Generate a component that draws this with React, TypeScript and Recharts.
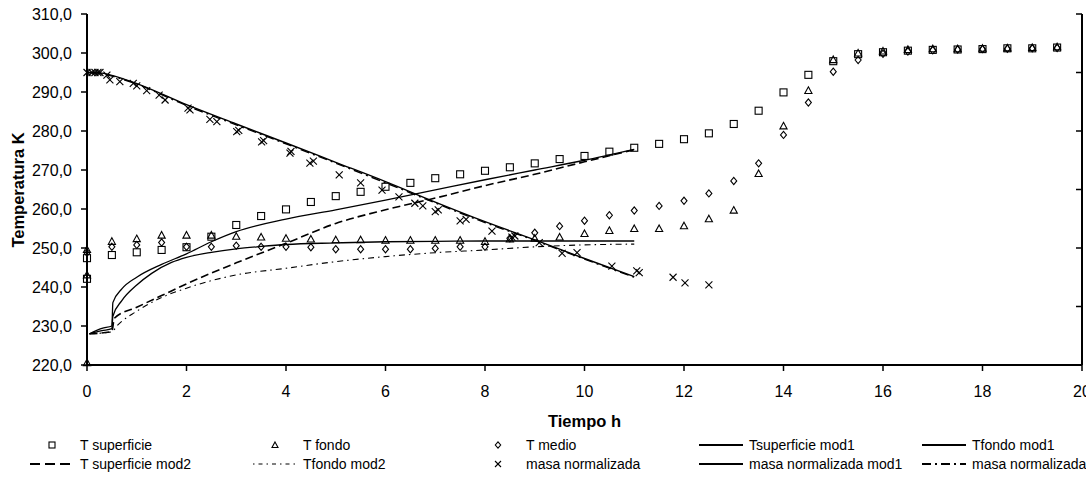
import React from 'react';
import { ComposedChart, Line, Scatter, XAxis, YAxis } from 'recharts';

const FONT = '"Liberation Sans", Arial, Helvetica, sans-serif';

// ---- measured data ----
const tSupT = [0, 0, 0.5, 1, 1.5, 2, 2.5, 3, 3.5, 4, 4.5, 5, 5.5, 6, 6.5, 7, 7.5, 8, 8.5, 9, 9.5, 10, 10.5, 11, 11.5, 12, 12.5, 13, 13.5, 14, 14.5, 15, 15.5, 16, 16.5, 17, 17.5, 18, 18.5, 19, 19.5];
const tSupV = [242.1, 247.4, 248.2, 248.9, 249.5, 250.2, 252.9, 255.9, 258.2, 259.9, 261.8, 263.3, 264.4, 265.7, 266.7, 267.9, 268.9, 269.8, 270.7, 271.7, 272.8, 273.6, 274.7, 275.7, 276.7, 277.9, 279.4, 281.8, 285.2, 289.9, 294.4, 297.9, 299.7, 300.2, 300.6, 300.8, 300.9, 301.0, 301.2, 301.2, 301.4];

const tFonT = [0, 0, 0, 0.5, 1, 1.5, 2, 2.5, 3, 3.5, 4, 4.5, 5, 5.5, 6, 6.5, 7, 7.5, 8, 8.5, 9, 9.5, 10, 10.5, 11, 11.5, 12, 12.5, 13, 13.5, 14, 14.5, 15, 15.5, 16, 16.5, 17, 17.5, 18, 18.5, 19, 19.5];
const tFonV = [249.5, 243.0, 220.5, 251.6, 252.3, 253.2, 253.2, 253.2, 252.9, 252.7, 252.4, 252.2, 252.0, 252.0, 251.9, 251.9, 251.9, 251.9, 251.6, 252.2, 252.4, 252.7, 253.6, 254.4, 254.9, 254.9, 255.6, 257.4, 259.6, 269.0, 281.2, 290.3, 298.2, 299.9, 300.4, 300.8, 301.0, 301.0, 301.1, 301.2, 301.3, 301.5];

const tMedT = [0, 0.5, 1, 1.5, 2, 2.5, 3, 3.5, 4, 4.5, 5, 5.5, 6, 6.5, 7, 7.5, 8, 8.5, 9, 9.5, 10, 10.5, 11, 11.5, 12, 12.5, 13, 13.5, 14, 14.5, 15, 15.5, 16, 16.5, 17, 17.5, 18, 18.5, 19, 19.5];
const tMedV = [248.8, 250.3, 250.8, 251.4, 250.3, 250.3, 250.6, 250.3, 250.3, 250.2, 249.7, 249.7, 249.7, 249.7, 249.9, 250.3, 250.3, 252.5, 253.9, 255.6, 257.0, 258.4, 259.6, 260.8, 262.1, 264.0, 267.2, 271.7, 279.0, 287.3, 295.2, 298.2, 299.8, 300.4, 300.7, 300.9, 301.0, 301.1, 301.2, 301.3];

const masaT = [0, 0.1, 0.16, 0.22, 0.26, 0.4, 0.46, 0.66, 0.93, 1.0, 1.2, 1.45, 1.57, 2.03, 2.07, 2.47, 2.61, 3.01, 3.05, 3.51, 3.55, 4.08, 4.1, 4.48, 4.55, 5.07, 5.5, 5.93, 6.27, 6.59, 6.75, 7.0, 7.06, 7.5, 7.62, 8.14, 8.54, 8.6, 9.09, 9.55, 9.85, 10.55, 11.05, 11.1, 11.78, 12.02, 12.5];
const masaV = [1.0, 1.0, 1.0, 1.0, 1.0, 0.991, 0.975, 0.969, 0.963, 0.954, 0.938, 0.923, 0.906, 0.878, 0.872, 0.840, 0.832, 0.798, 0.802, 0.763, 0.767, 0.724, 0.730, 0.690, 0.697, 0.650, 0.623, 0.598, 0.575, 0.553, 0.544, 0.524, 0.530, 0.493, 0.498, 0.458, 0.437, 0.441, 0.418, 0.382, 0.384, 0.338, 0.322, 0.316, 0.300, 0.281, 0.274];

// ---- model curves ----
const supMod1T = [0.05, 0.3, 0.5, 0.52, 0.7, 1.0, 1.5, 2.0, 2.5, 3, 4, 5, 6, 7, 8, 9, 10, 11];
const supMod1V = [228.0, 229.4, 230.0, 236.0, 239.5, 242.5, 245.8, 248.5, 251.6, 254.2, 257.4, 259.8, 262.3, 264.9, 267.5, 270.0, 272.5, 275.3];

const fonMod1T = [0.05, 0.3, 0.5, 0.52, 0.7, 1.0, 1.3, 1.7, 2, 2.5, 3, 3.5, 4, 5, 6, 7, 8, 11];
const fonMod1V = [228.0, 228.8, 229.3, 232.5, 236.5, 240.5, 243.5, 246.3, 247.6, 248.9, 249.8, 250.4, 250.9, 251.3, 251.6, 251.7, 251.8, 251.8];

const supMod2T = [0.05, 0.5, 0.55, 1.0, 1.5, 2, 3, 4, 5, 6, 7, 8, 9, 10, 11];
const supMod2V = [228.0, 228.6, 232.0, 234.8, 237.8, 240.8, 246.2, 251.2, 256.3, 259.8, 262.8, 266.0, 268.9, 272.1, 275.2];

const fonMod2T = [0.05, 0.5, 0.6, 1.0, 1.5, 2, 3, 4, 5, 6, 7, 8, 9, 10, 11];
const fonMod2V = [228.0, 228.5, 230.0, 233.8, 237.3, 239.7, 243.1, 244.8, 246.5, 247.8, 248.8, 249.5, 250.3, 250.8, 251.0];

const masaMod1T = [0, 0.3, 0.5, 1, 2, 3, 4, 5, 6, 7, 8, 9, 10, 11];
const masaMod1V = [1.0, 0.998, 0.99, 0.962, 0.89, 0.824, 0.759, 0.693, 0.627, 0.557, 0.49, 0.428, 0.364, 0.302];

const masaMod2T = [0, 0.3, 0.5, 1, 2, 3, 4, 5, 6, 7, 8, 9, 10, 11];
const masaMod2V = [1.0, 0.996, 0.988, 0.960, 0.887, 0.821, 0.756, 0.690, 0.623, 0.554, 0.487, 0.426, 0.362, 0.300];

const xTicks = [0, 2, 4, 6, 8, 10, 12, 14, 16, 18, 20];
const yTicks = [220, 230, 240, 250, 260, 270, 280, 290, 300, 310];
const y2Ticks = [0, 0.2, 0.4, 0.6, 0.8, 1.0, 1.2];

const zip = (t: number[], v: number[]) => t.map((x, i) => ({ t: x, v: v[i] }));

const dSup = zip(tSupT, tSupV);
const dFon = zip(tFonT, tFonV);
const dMed = zip(tMedT, tMedV);
const dMasa = zip(masaT, masaV);
const dSupMod1 = zip(supMod1T, supMod1V);
const dFonMod1 = zip(fonMod1T, fonMod1V);
const dSupMod2 = zip(supMod2T, supMod2V);
const dFonMod2 = zip(fonMod2T, fonMod2V);
const dMasaMod1 = zip(masaMod1T, masaMod1V);
const dMasaMod2 = zip(masaMod2T, masaMod2V);

const fmt = (v: number) => v.toFixed(1).replace('.', ',');

const SquareShape = (p: any) => (
  <rect x={p.cx - 3.5} y={p.cy - 3.5} width={7} height={7} fill="none" stroke="#000" strokeWidth={1.1} />
);
const TriangleShape = (p: any) => (
  <polygon points={`${p.cx},${p.cy - 4} ${p.cx + 3.6},${p.cy + 2.6} ${p.cx - 3.6},${p.cy + 2.6}`} fill="none" stroke="#000" strokeWidth={1.1} />
);
const DiamondShape = (p: any) => (
  <polygon points={`${p.cx},${p.cy - 3.6} ${p.cx + 3},${p.cy} ${p.cx},${p.cy + 3.6} ${p.cx - 3},${p.cy}`} fill="none" stroke="#000" strokeWidth={1.1} />
);
const CrossShape = (p: any) => (
  <g stroke="#000" strokeWidth={1.1}>
    <line x1={p.cx - 3.5} y1={p.cy - 3.5} x2={p.cx + 3.5} y2={p.cy + 3.5} />
    <line x1={p.cx - 3.5} y1={p.cy + 3.5} x2={p.cx + 3.5} y2={p.cy - 3.5} />
  </g>
);

const RightTick = (p: any) => (
  <line x1={p.x - 6} y1={p.y} x2={p.x} y2={p.y} stroke="#000" strokeWidth={1.5} />
);

const YTitle = (p: any) => {
  const cx = 18;
  const cy = 190;
  return (
    <text x={cx} y={cy} transform={`rotate(-90 ${cx} ${cy})`} textAnchor="middle" dominantBaseline="central"
      style={{ fontFamily: FONT, fontSize: 16.5, fontWeight: 'bold', fill: '#000' }}>
      Temperatura K
    </text>
  );
};

type LegendItem = { label: string; kind: string };
const legendRow1: LegendItem[] = [
  { label: 'T superficie', kind: 'square' },
  { label: 'T fondo', kind: 'triangle' },
  { label: 'T medio', kind: 'diamond' },
  { label: 'Tsuperficie mod1', kind: 'solid' },
  { label: 'Tfondo mod1', kind: 'solid' },
];
const legendRow2: LegendItem[] = [
  { label: 'T superficie mod2', kind: 'dashed' },
  { label: 'Tfondo mod2', kind: 'dashdotfine' },
  { label: 'masa normalizada', kind: 'cross' },
  { label: 'masa normalizada mod1', kind: 'solid' },
  { label: 'masa normalizada mod2', kind: 'dashdot' },
];
const legendCols = [80, 303, 526, 749, 972];

const Sample = ({ kind }: { kind: string }) => {
  const w = 44;
  const c = 22;
  const m = 7;
  let el: React.ReactNode = null;
  if (kind === 'square') el = <rect x={c - 3} y={m - 3} width={6} height={6} fill="none" stroke="#000" strokeWidth={1.1} />;
  else if (kind === 'triangle') el = <polygon points={`${c},${m - 3} ${c + 3},${m + 2.5} ${c - 3},${m + 2.5}`} fill="none" stroke="#000" strokeWidth={1.1} />;
  else if (kind === 'diamond') el = <polygon points={`${c},${m - 3.2} ${c + 2.7},${m} ${c},${m + 3.2} ${c - 2.7},${m}`} fill="none" stroke="#000" strokeWidth={1.1} />;
  else if (kind === 'cross') el = (
    <g stroke="#000" strokeWidth={1.1}>
      <line x1={c - 3} y1={m - 3} x2={c + 3} y2={m + 3} />
      <line x1={c - 3} y1={m + 3} x2={c + 3} y2={m - 3} />
    </g>
  );
  else {
    const dash = kind === 'dashed' ? '10 5' : kind === 'dashdotfine' ? '1.5 4 4 4' : kind === 'dashdot' ? '9 4 2 4' : undefined;
    const sw = kind === 'dashdotfine' ? 1 : 2;
    el = <line x1={0} y1={m} x2={w} y2={m} stroke="#000" strokeWidth={sw} strokeDasharray={dash} />;
  }
  return <svg width={w} height={14} style={{ display: 'block' }}>{el}</svg>;
};

const LegendBlock = () => {
  const rows = [legendRow1, legendRow2];
  const rowY = [445, 464];
  return (
    <>
      {rows.map((row, ri) =>
        row.map((it, ci) => (
          <React.Fragment key={`${ri}-${ci}`}>
            <div style={{ position: 'absolute', left: legendCols[ci] - 50, top: rowY[ri] - 7 }}>
              <Sample kind={it.kind} />
            </div>
            <div style={{ position: 'absolute', left: legendCols[ci], top: rowY[ri] - 8, fontFamily: FONT, fontSize: 14, lineHeight: '16px', whiteSpace: 'nowrap', color: '#000' }}>
              {it.label}
            </div>
          </React.Fragment>
        ))
      )}
    </>
  );
};

export default function App() {
  const tickStyle = { fontFamily: FONT, fontSize: 16, fill: '#000' };
  return (
    <div style={{ position: 'absolute', left: 0, top: 0, width: 1086, height: 478, overflow: 'hidden', background: '#fff' }}>
      <ComposedChart width={1086} height={478} margin={{ top: 14, right: 3, left: 0, bottom: 51 }}>
        <XAxis
          dataKey="t"
          type="number"
          domain={[0, 20]}
          ticks={xTicks}
          interval={0}
          tick={tickStyle}
          tickSize={6}
          tickMargin={15}
          axisLine={{ stroke: '#000', strokeWidth: 2 }}
          tickLine={{ stroke: '#000', strokeWidth: 1.5 }}
          height={62}
          label={{ value: 'Tiempo h', position: 'insideBottom', offset: 0, style: { fontFamily: FONT, fontSize: 16.5, fontWeight: 'bold', fill: '#000' } }}
        />
        <YAxis
          yAxisId="left"
          type="number"
          domain={[220, 310]}
          ticks={yTicks}
          interval={0}
          tickFormatter={fmt}
          tick={tickStyle}
          tickSize={6}
          tickMargin={9}
          width={87}
          axisLine={{ stroke: '#000', strokeWidth: 2 }}
          tickLine={{ stroke: '#000', strokeWidth: 1.5 }}
          label={YTitle}
        />
        <YAxis
          yAxisId="right"
          orientation="right"
          type="number"
          domain={[0, 1.2]}
          ticks={y2Ticks}
          interval={0}
          width={1}
          tickSize={0}
          tickMargin={0}
          tickLine={false}
          tick={RightTick}
          axisLine={{ stroke: '#000', strokeWidth: 2 }}
        />

        <Line yAxisId="left" data={dSupMod1} dataKey="v" type="monotone" stroke="#000" strokeWidth={1.3} dot={false} isAnimationActive={false} />
        <Line yAxisId="left" data={dFonMod1} dataKey="v" type="monotone" stroke="#000" strokeWidth={1.3} dot={false} isAnimationActive={false} />
        <Line yAxisId="left" data={dSupMod2} dataKey="v" type="monotone" stroke="#000" strokeWidth={1.6} strokeDasharray="8 4" dot={false} isAnimationActive={false} />
        <Line yAxisId="left" data={dFonMod2} dataKey="v" type="monotone" stroke="#000" strokeWidth={1.1} strokeDasharray="6 4 1.5 4" dot={false} isAnimationActive={false} />
        <Line yAxisId="right" data={dMasaMod1} dataKey="v" type="monotone" stroke="#000" strokeWidth={1.4} dot={false} isAnimationActive={false} />
        <Line yAxisId="right" data={dMasaMod2} dataKey="v" type="monotone" stroke="#000" strokeWidth={1.4} strokeDasharray="9 4 2 4" dot={false} isAnimationActive={false} />

        <Scatter yAxisId="left" data={dSup} dataKey="v" shape={SquareShape} isAnimationActive={false} />
        <Scatter yAxisId="left" data={dFon} dataKey="v" shape={TriangleShape} isAnimationActive={false} />
        <Scatter yAxisId="left" data={dMed} dataKey="v" shape={DiamondShape} isAnimationActive={false} />
        <Scatter yAxisId="right" data={dMasa} dataKey="v" shape={CrossShape} isAnimationActive={false} />
      </ComposedChart>
      <LegendBlock />
    </div>
  );
}
